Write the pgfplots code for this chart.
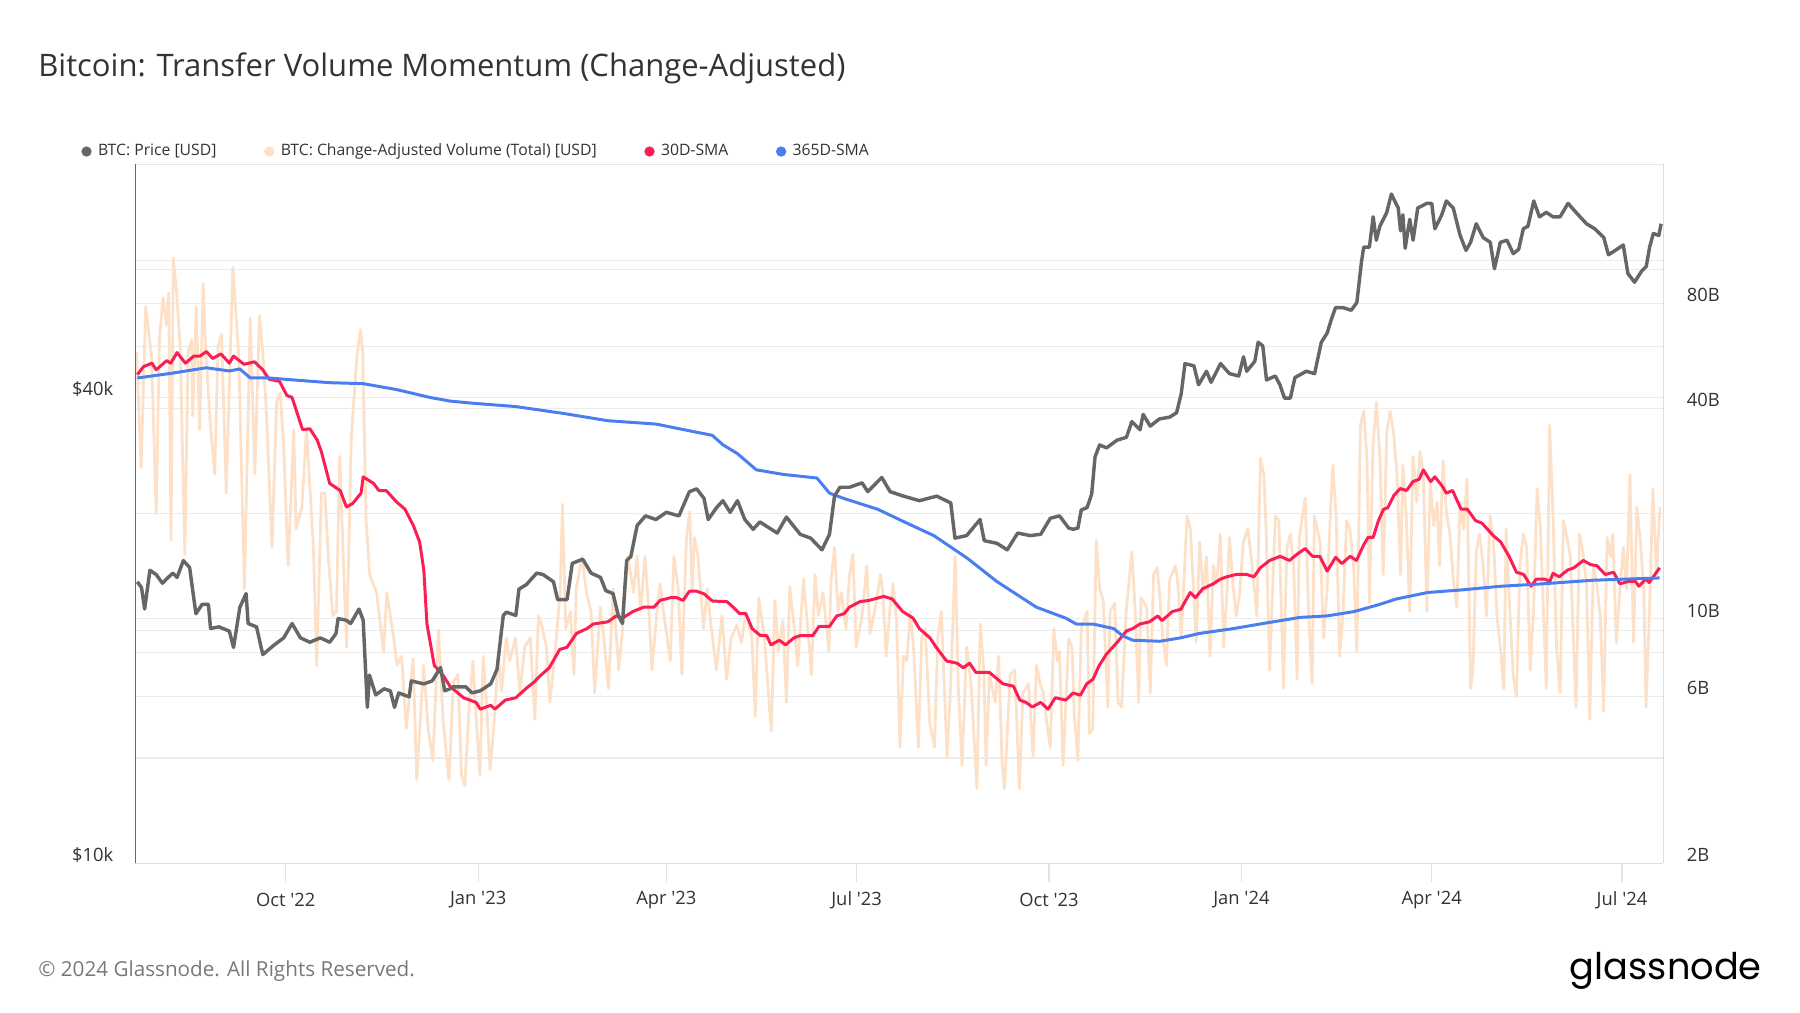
\documentclass[border=0pt]{standalone}
\usepackage{pgfplots}
\pgfplotsset{compat=1.18}
\usepackage{fontspec}
\setmainfont{Open Sans}
\newfontfamily\logofont{Poppins}
\definecolor{pricegray}{RGB}{102,102,102}
\definecolor{peach}{RGB}{253,224,200}
\definecolor{peachline}{RGB}{253,214,180}
\definecolor{smared}{RGB}{250,30,85}
\definecolor{smablue}{RGB}{74,125,240}
\definecolor{gridc}{RGB}{236,236,236}
\definecolor{txt}{RGB}{51,51,51}
\definecolor{foot}{RGB}{120,120,120}
\begin{document}
\begin{tikzpicture}
\path[use as bounding box] (0,0) rectangle (784pt,441pt);
\pgfplotsset{
  base/.style={
    at={(59pt,65pt)}, anchor=south west, scale only axis,
    width=665.5pt, height=304.5pt,
    xmin=-71.9, xmax=658.8,
    axis line style={draw=none},
    ytick style={draw=none},
  }
}
% ---- axis 1: price grid, left labels, x labels
\begin{axis}[base, ymode=log, ymin=10000, ymax=80000,
  ytick={10000,20000,40000,60000}, yticklabels={\$10k,,\$40k,},
  ymajorgrids, major grid style={gridc, line width=0.5pt},
  yticklabel style={anchor=east, inner sep=0pt, xshift=-1.5pt, yshift=3.5pt,
    font=\fontsize{8}{9}\selectfont, text=txt},
  xtick={0,92,182,273,365,457,548,639},
  xticklabels={{Oct \textquotesingle22},{Jan \textquotesingle23},{Apr \textquotesingle23},{Jul \textquotesingle23},{Oct \textquotesingle23},{Jan \textquotesingle24},{Apr \textquotesingle24},{Jul \textquotesingle24}},
  xtick style={draw=gray!22, line width=0.5pt},
  xtick pos=bottom,
  tick align=outside, major tick length=8pt,
  xticklabel style={font=\fontsize{8}{9}\selectfont, text=txt, inner sep=0pt, anchor=center, yshift=-8pt},
]
\end{axis}
% ---- axis 2: volume (right)
\begin{axis}[base, ymode=log, ymin=2, ymax=200,
  ytick={2,4,6,8,10,20,40,60,80,100}, yticklabels={2B,,6B,,10B,,40B,,80B,},
  ymajorgrids, major grid style={gridc, line width=0.5pt},
  yticklabel pos=right,
  yticklabel style={anchor=west, inner sep=0pt, xshift=10pt, yshift=3.5pt,
    font=\fontsize{8}{9}\selectfont, text=txt},
  xtick=\empty,
]
% change-adjusted volume
\addplot[peach, line width=1.2pt, line join=round] coordinates {
(-71.4,58.1) (-69.2,27.1) (-67.0,78.2) (-64.2,56.5) (-62.0,20.0) (-60.4,63.7) (-58.7,83.0) (-57.1,69.3) (-56.0,85.6) (-54.9,16.8)
(-53.8,107.5) (-52.2,85.6) (-50.5,60.0) (-48.3,15.3) (-46.7,58.1) (-45.0,62.8) (-44.5,38.1) (-42.8,78.2) (-41.2,34.8) (-39.5,91.0)
(-38.4,60.0) (-36.2,37.0) (-34.0,25.9) (-32.4,60.0) (-30.7,65.2) (-28.5,22.9) (-25.3,101.3) (-22.5,56.5) (-19.8,12.2) (-17.0,72.5)
(-14.8,25.9) (-12.6,73.6) (-11.0,58.1) (-9.3,39.3) (-6.6,16.0) (-4.4,41.7) (-2.7,44.3) (-1.1,32.0) (1.1,14.2) (3.8,34.8)
(4.9,18.1) (7.7,20.9) (9.9,34.8) (13.2,16.0) (14.8,7.36) (17.0,22.9) (18.7,22.9) (20.3,15.1) (22.5,10.2) (24.2,10.5)
(25.8,29.2) (27.4,15.6) (29.1,8.31) (31.3,33.0) (34.0,56.5) (35.7,67.2) (36.8,58.1) (38.4,19.1) (40.1,13.4) (43.4,11.9)
(46.7,8.06) (48.3,11.9) (51.6,8.83) (53.2,7.36) (55.4,7.82) (57.6,4.85) (60.9,7.70) (62.6,3.47) (65.9,7.36) (68.1,4.85)
(70.3,3.93) (73.0,9.31) (75.2,5.12) (78.0,3.47) (80.2,6.62) (82.3,6.93) (84.0,3.58) (85.6,3.33) (87.8,5.77) (89.5,7.58)
(91.1,5.12) (92.8,3.58) (94.4,7.82) (96.1,5.56) (97.7,3.70) (99.4,4.85) (101.6,7.82) (103.2,6.23) (105.4,8.83) (107.1,7.58)
(109.8,8.83) (112.0,6.14) (114.2,8.31) (116.9,8.83) (119.1,5.16) (120.8,10.2) (122.4,9.59) (124.6,8.31) (126.3,5.77) (129.0,8.31)
(131.2,11.9) (132.3,21.3) (133.9,9.38) (136.1,10.5) (137.8,6.93) (138.9,12.2) (141.6,15.1) (143.8,11.9) (146.0,10.5) (147.7,6.14)
(150.4,10.8) (152.1,8.83) (154.3,6.32) (156.5,12.2) (159.2,7.14) (161.4,9.88) (163.6,15.1) (166.3,11.9) (168.0,15.1) (169.6,10.5)
(171.8,15.1) (173.5,10.8) (175.1,7.14) (177.3,10.2) (179.0,12.6) (180.6,10.5) (183.9,7.58) (185.6,15.1) (187.7,12.2) (189.4,6.93)
(191.6,17.1) (193.2,20.3) (194.3,11.9) (195.4,17.1) (197.1,15.1) (199.8,9.38) (201.5,12.2) (203.1,9.88) (205.9,7.14) (208.6,10.2)
(210.8,6.72) (213.0,8.83) (215.7,9.59) (217.9,8.56) (220.1,10.5) (222.9,8.83) (224.5,5.27) (226.2,11.5) (228.9,8.83) (230.6,6.32)
(232.2,4.78) (233.9,11.3) (235.5,8.06) (237.7,9.88) (239.4,5.77) (241.0,12.4) (243.7,8.83) (244.8,7.36) (247.6,13.0) (249.8,9.10)
(251.4,6.93) (253.1,13.4) (254.7,10.2) (256.9,11.9) (259.7,8.06) (260.8,13.0) (262.4,16.0) (264.1,10.5) (265.7,11.9) (267.9,9.38)
(269.5,13.2) (271.2,15.3) (272.8,8.31) (275.6,10.2) (277.8,14.2) (279.4,9.10) (281.6,10.5) (284.4,13.4) (285.5,11.9) (287.1,7.82)
(288.8,10.5) (290.4,12.6) (292.1,9.88) (293.7,4.30) (295.4,7.82) (297.0,7.58) (298.7,10.5) (300.3,8.06) (302.5,4.30) (304.1,8.83)
(305.8,9.38) (308.0,5.01) (310.2,4.30) (311.8,8.83) (313.5,10.5) (316.2,4.05) (317.9,6.32) (320.1,15.1) (321.7,6.14) (323.4,3.81)
(325.6,8.31) (327.7,6.52) (330.5,3.27) (332.1,9.67) (333.8,7.14) (334.9,3.81) (336.5,6.93) (339.3,5.77) (340.9,7.82) (342.6,3.81)
(343.7,3.27) (346.4,6.93) (348.6,7.14) (350.8,3.27) (352.5,6.14) (355.2,6.52) (357.4,4.05) (359.0,7.36) (360.7,6.52) (362.3,6.14)
(364.0,5.01) (365.6,4.30) (367.3,9.38) (368.9,7.58) (370.0,8.06) (371.7,3.81) (374.4,8.76) (376.0,8.31) (377.1,5.27) (378.8,3.93)
(380.4,9.38) (383.2,10.5) (384.3,4.70) (385.9,4.85) (387.6,16.8) (389.2,12.2) (390.9,11.3) (393.1,5.60) (394.2,10.5) (396.4,11.1)
(398.0,5.77) (399.7,5.60) (401.9,10.5) (404.6,15.6) (406.2,10.5) (407.9,5.77) (409.0,11.5) (411.7,10.8) (413.4,6.14) (415.0,13.4)
(416.7,14.0) (417.8,11.9) (419.4,8.83) (421.1,7.36) (422.7,13.0) (425.5,14.2) (426.6,12.6) (428.2,8.83) (431.0,19.7) (432.6,18.1)
(433.7,13.4) (435.4,8.56) (437.0,16.6) (438.7,11.9) (440.3,15.1) (442.0,7.82) (443.6,14.2) (445.2,12.6) (446.9,17.5) (448.5,8.31)
(450.2,12.2) (451.3,17.1) (452.9,12.6) (454.6,10.2) (456.2,11.9) (457.9,16.6) (460.0,18.1) (461.7,15.1) (464.4,10.2) (466.1,28.8)
(467.7,25.9) (468.8,18.1) (470.5,7.14) (473.2,19.7) (474.9,19.1) (477.1,6.32) (478.7,16.0) (480.4,17.5) (482.0,14.2) (483.6,6.72)
(484.7,17.1) (487.5,22.2) (489.1,10.5) (490.8,6.52) (491.9,19.7) (494.6,16.6) (496.3,8.83) (497.9,11.9) (499.6,20.3) (500.7,27.5)
(502.3,19.7) (504.0,7.82) (505.6,10.5) (507.3,19.1) (508.9,18.1) (510.6,14.2) (512.2,8.06) (513.9,35.8) (515.5,39.3) (517.1,28.3)
(518.2,11.1) (519.9,31.0) (521.5,41.7) (523.2,29.2) (524.8,13.4) (526.5,34.0) (528.1,39.3) (529.8,34.0) (531.4,25.9) (533.1,13.4)
(534.2,27.5) (535.8,19.7) (537.5,10.5) (539.1,29.2) (540.8,21.6) (542.4,30.1) (544.0,25.9) (545.7,10.5) (547.3,24.4) (549.0,18.5)
(550.6,21.6) (551.7,14.2) (553.4,28.3) (555.0,20.3) (556.7,17.5) (558.3,13.0) (560.0,10.8) (561.6,21.6) (563.2,18.1) (564.9,25.1)
(566.6,6.32) (567.7,7.14) (569.3,15.6) (570.9,17.5) (572.6,14.2) (574.2,10.2) (575.9,19.7) (577.5,17.1) (579.2,10.2) (580.8,8.31)
(582.5,6.32) (583.6,18.1) (585.2,11.1) (586.9,6.93) (588.5,5.99) (590.2,14.2) (591.8,17.5) (593.4,16.0) (595.1,7.14) (596.7,10.5)
(598.4,23.6) (600.0,18.1) (601.1,11.9) (602.8,6.32) (604.4,35.8) (606.1,19.1) (607.7,8.31) (609.4,6.14) (611.0,19.1) (612.7,17.1)
(614.3,15.1) (615.9,8.31) (617.0,5.60) (618.7,17.5) (620.3,15.6) (622.0,12.6) (623.6,5.16) (625.3,14.2) (626.9,12.6) (628.6,10.2)
(630.2,5.44) (631.9,17.1) (633.5,15.1) (634.6,17.5) (636.3,8.56) (637.9,11.9) (639.6,16.0) (641.2,12.2) (642.8,25.9) (644.5,8.56)
(646.1,20.9) (647.8,16.6) (649.4,12.2) (650.5,5.60) (652.2,10.8) (653.8,23.6) (655.5,13.4) (657.1,20.9)
};
% 30D-SMA
\addplot[smared, line width=1.3pt, line join=round] coordinates {
(-71,50.0) (-68,52.7) (-64,53.9) (-62,51.6) (-57,54.8) (-55,53.9) (-52,57.8) (-48,53.9) (-44,56.5) (-41,56.5)
(-38,58.2) (-35,55.6) (-31,57.3) (-27,53.9) (-25,56.5) (-20,53.5) (-15,54.4) (-11,51.6) (-8,48.5) (-3,47.8)
(0.5,43.6) (3,43.0) (8,34.8) (11.5,35.0) (15,32.5) (17,30.1) (21,24.4) (26,23.3) (29,20.9) (32,21.4)
(36,22.9) (37,25.5) (42,24.4) (44.5,23.3) (48,23.3) (53,21.6) (57,20.6) (61,18.5) (64,16.6) (66,13.8)
(67.5,9.67) (71,7.36) (75,6.93) (78.5,6.42) (85,5.95) (91,5.77) (93,5.52) (98,5.66) (100,5.52) (105,5.86)
(110,5.95) (115,6.33) (119,6.62) (121,6.82) (126,7.25) (131,8.18) (134.5,8.30) (139,9.09) (144,9.38) (147,9.67)
(154,9.81) (158,10.2) (161,10.05) (166,10.5) (171,10.8) (176,10.8) (179,11.3) (184,11.5) (187,11.5) (190,11.3)
(193,12.0) (196.5,12.0) (200,11.8) (204,11.25) (211,11.2) (214,10.8) (217,10.35) (220,10.35) (223,9.38) (227,8.96)
(230,8.96) (232,8.43) (236,8.69) (239,8.43) (243,8.83) (246,8.96) (250,8.96) (252,8.96) (255,9.52) (260,9.52)
(263.5,10.2) (267,10.35) (269.5,10.8) (274.5,11.2) (279,11.3) (286,11.6) (290,11.4) (295,10.5) (300,10.05) (303,9.38)
(308,8.83) (311,8.30) (316,7.58) (321,7.47) (324,7.25) (327,7.47) (330,7.03) (336.5,7.03) (343,6.52) (348,6.42)
(351,5.86) (354,5.77) (357,5.60) (361,5.77) (364.5,5.52) (368,5.95) (373,5.86) (376.5,6.14) (380,6.05) (383,6.52)
(386,6.72) (389,7.36) (392.5,7.94) (397.5,8.56) (402,9.24) (405,9.38) (408.5,9.67) (413,9.81) (417,10.2) (419,9.89)
(424,10.5) (428,10.65) (432.5,11.9) (435,11.5) (438.5,12.2) (443.5,12.6) (447,13.0) (450,13.2) (454.5,13.4) (459.5,13.4)
(463,13.2) (466,14.0) (470.5,14.7) (475.5,15.1) (480,14.7) (483.5,15.3) (487.5,15.9) (491,15.1) (494.5,15.1) (498,13.7)
(502,15.0) (505,14.4) (509,15.1) (512,14.7) (515.5,16.3) (517.5,17.1) (520,17.1) (522.5,19.1) (525,20.6) (527,20.8)
(530,22.6) (533,23.6) (536,23.3) (539,24.7) (542,25.1) (544,26.7) (547.5,24.7) (549.5,25.5) (553,24.0) (555,22.9)
(558,23.3) (562,20.6) (565,20.6) (569,19.1) (572,18.8) (577.5,17.3) (581,16.6) (585,15.1) (588.5,13.6) (592,13.4)
(595.5,12.4) (598,13.0) (602,13.0) (604.5,12.8) (606,13.5) (609,13.2) (613,13.8) (616,14.0) (620.5,14.7) (624,14.3)
(627,14.2) (631,13.4) (635,13.6) (638,12.6) (642,12.8) (645.5,12.8) (647,12.4) (650.5,13.0) (652,12.7) (655.5,13.6)
(657,14.0)
};
% 365D-SMA
\addplot[smablue, line width=1.3pt, line join=round] coordinates {
(-71,48.9) (-55,50.4) (-38,52.3) (-27,51.2) (-22,51.9) (-17,48.9) (-8,48.9) (5,48.2) (21,47.4) (37,47.1)
(53,45.3) (69,43.0) (78.5,42.0) (89.5,41.4) (110,40.5) (133,38.7) (154,36.9) (177,36.1) (196.5,34.2) (204,33.5)
(209,31.5) (216,29.7) (225,26.7) (238,25.9) (254,25.3) (260,22.9) (267,22.1) (283,20.6) (297,18.8) (310,17.3)
(326,14.9) (340,12.8) (350,11.7) (359,10.8) (373,10.05) (378,9.67) (386,9.67) (396,9.38) (400,8.96) (405,8.69)
(418,8.63) (428,8.83) (437,9.09) (453,9.38) (469,9.74) (485,10.1) (498,10.2) (511,10.5) (523,11.0) (531,11.4)
(546,11.9) (562,12.1) (581,12.4) (601,12.6) (625,12.9) (657,13.1)
};
\end{axis}
% ---- axis 3: price on top
\begin{axis}[base, ymode=log, ymin=10000, ymax=80000,
  ytick=\empty, xtick=\empty, clip=false,
  legend columns=4,
  legend style={at={(-0.0357,1.018)}, anchor=west, draw=none, fill=none,
    inner sep=0pt, font=\fontsize{6.85}{8}\selectfont, text=txt,
    /tikz/every even column/.append style={column sep=20.75pt},
    nodes={inner sep=0pt}},
  legend image code/.code={\fill[#1, draw=none] (2.25pt,0pt) circle (2.25pt); \path[draw=none, fill=none] (0pt,-2.25pt) rectangle (7.25pt,2.25pt);},
]
\addplot[pricegray, line width=1.5pt, line join=round, forget plot] coordinates {
(-71,23100) (-69,22700) (-67.5,21300) (-65,23900) (-62,23600) (-59,23000) (-57,23300) (-54,23700) (-52,23400) (-49,24600)
(-46,24100) (-43,21000) (-40,21600) (-37,21600) (-36,20100) (-32,20200) (-27,19950) (-25,19000) (-22,21400) (-19,22300)
(-18,20400) (-14,20200) (-11,18600) (-6,19100) (-1,19550) (3,20400) (7,19550) (11.5,19300) (16.5,19550) (21,19300)
(24,19800) (25,20700) (29,20600) (31,20400) (35,21300) (37,20600) (39,15900) (40,17500) (43,16500) (47,16800)
(50,16700) (52,15900) (54,16600) (59,16400) (60,17200) (66,17050) (70,17200) (74,17900) (76,16700) (78.5,16800)
(80,16900) (86,16900) (89,16600) (93,16700) (98,17050) (101,17800) (104,20900) (105.5,21100) (110,20900) (111.5,22600)
(115,22900) (120,23700) (123,23600) (128,23100) (130,21900) (134.5,21900) (137,24400) (142,24700) (146,23700) (150.5,23400)
(153,22500) (156.5,22300) (159,20900) (161,20400) (163,24600) (165,24900) (168,27300) (172,28100) (177,27800) (182,28400)
(188,28100) (193,30200) (196.5,30450) (200,29600) (202,27800) (206,28800) (209,29400) (212.5,28400) (216,29400) (219.5,27800)
(223.5,27000) (226.7,27600) (235,26700) (239.4,28000) (246,26600) (251,26300) (256.4,25400) (260,26600) (262.4,29800) (265,30600)
(269.6,30600) (275.6,31000) (278.3,30200) (285,31500) (289,30200) (295.4,29800) (303,29400) (311.3,29800) (318,29200) (320,26300)
(325.6,26500) (332,27800) (334,26100) (340,25900) (345,25400) (350,26700) (356,26500) (361,26600) (365.6,27900) (370,28100)
(374.4,27100) (376.6,27000) (378.8,27100) (380.4,28600) (383.2,28800) (385.4,30000) (387,33500) (389.2,34700) (392.5,34400) (397.5,35200)
(402,35500) (404.6,37200) (408.5,36300) (410,38000) (413.4,36700) (417.8,37500) (422.7,37700) (426,38200) (428.2,40400) (430,44200)
(434.3,43900) (436.5,41500) (440.3,43200) (442.5,41800) (447,44200) (451.3,42900) (455.7,42600) (458,45100) (459.5,43200) (463.4,44500)
(465,47100) (467.2,46600) (469,42100) (473.2,42600) (475.4,41500) (477.6,39900) (480.4,39900) (482.6,42400) (488,43200) (492,42900)
(495.2,47100) (498,48400) (500,50400) (502,52200) (505.6,52200) (509.5,51800) (512.2,53000) (514.4,59800) (515.5,62500) (518.2,62500)
(520,68400) (521.5,63800) (523.2,66500) (526.5,69300) (528.7,73200) (532,70200) (533.1,65600) (534.2,68800) (535.3,62300) (537.5,67900)
(539.1,63800) (541.3,70200) (545.7,71200) (548,71200) (549.5,66000) (552.8,68800) (555,71700) (558.3,70200) (561.6,64700) (564.4,61900)
(566.6,63400) (569.3,67000) (572.6,64300) (576,63400) (578,58600) (580.8,63400) (584,63800) (587,61300) (589.6,62100) (591.8,66000)
(594,66500) (596.8,71700) (599.5,68400) (602.8,69300) (606,68400) (609.4,68400) (613.2,71200) (617,69300) (622,67000) (626,66000)
(630.3,64300) (632.5,61100) (635.8,61900) (639.6,62900) (641.8,57800) (645,56300) (648.4,58200) (650.6,59000) (652.2,62500) (654,65100)
(656.6,64700) (657.7,67000)
};
\addlegendimage{pricegray}\addlegendentry{BTC: Price [USD]}
\addlegendimage{peach}\addlegendentry{BTC: Change-Adjusted Volume (Total) [USD]}
\addlegendimage{smared}\addlegendentry{30D-SMA}
\addlegendimage{smablue}\addlegendentry{365D-SMA}
\draw[gray!20, line width=0.5pt] (rel axis cs:0,1) -- (rel axis cs:1,1);
\draw[gray!25, line width=0.5pt] (rel axis cs:0,0) -- (rel axis cs:1,0);
\draw[peachline, line width=0.6pt] (rel axis cs:1,0) -- (rel axis cs:1,1);
\draw[pricegray, line width=0.6pt] (rel axis cs:0,0) -- (rel axis cs:0,1);
\end{axis}
% ---- title and footer
\node[anchor=west, inner sep=0pt, text=txt] at (16.5pt,411pt)
  {\resizebox{351.5pt}{!}{\fontsize{12.4}{14}\selectfont Bitcoin: Transfer Volume Momentum (Change-Adjusted)}};
\node[anchor=west, inner sep=0pt, text=foot] at (16.5pt,18pt)
  {\resizebox{164pt}{!}{\fontsize{8.6}{10}\selectfont \textcopyright{} 2024 Glassnode. All Rights Reserved.}};
\node[anchor=east, inner sep=0pt, text=black] at (767.5pt,18pt)
  {\resizebox{83.5pt}{!}{\logofont\fontsize{17}{20}\selectfont glassnode}};
\end{tikzpicture}
\end{document}
